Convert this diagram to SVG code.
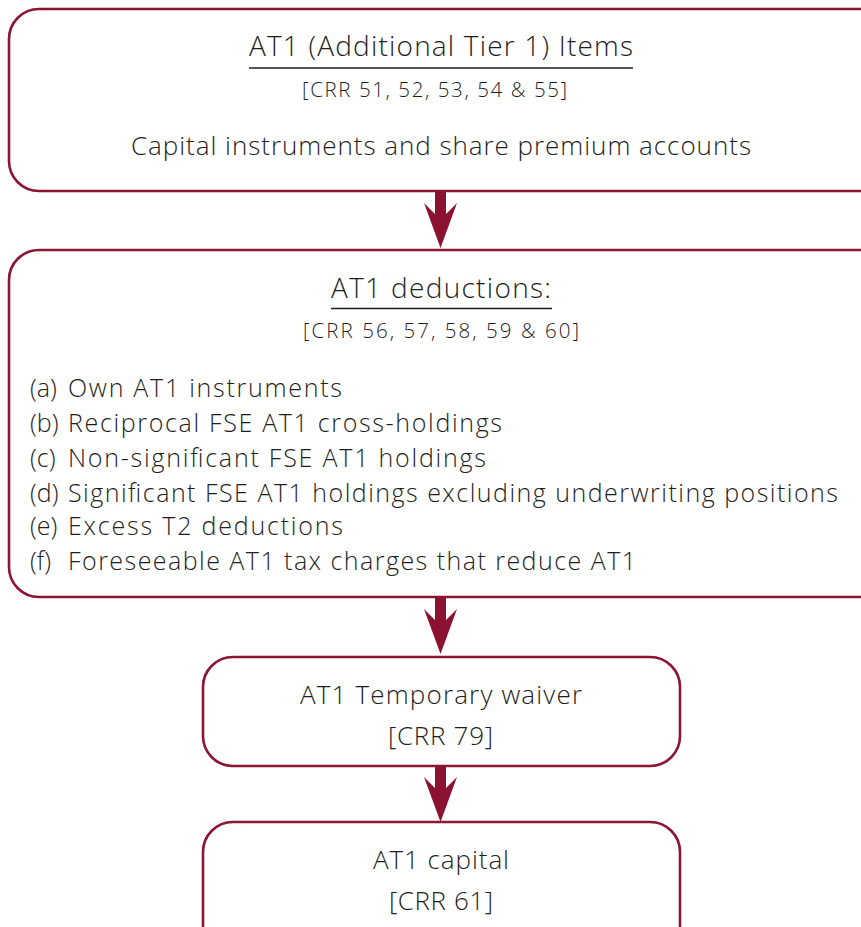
<svg xmlns="http://www.w3.org/2000/svg" xmlns:xlink="http://www.w3.org/1999/xlink" width="861" height="927" viewBox="0 0 861 927">
<style>
.box{fill:#fff;stroke:#8c1535;stroke-width:2.6}
.t{font-family:"Open Sans","Liberation Sans",sans-serif;font-weight:300;fill:#1e1e1e}
.ul{stroke:#1e1e1e;stroke-width:1.6}
.arr{fill:#8c1232}
.lg{font-size:28px}
.md{font-size:26px}
.it{font-size:25px}
.sm{font-size:20.5px}
</style>
<defs>
<path id="arrow" d="M-5.5,0 L5.5,0 L5.5,22 L16.5,11 L0,56 L-16.5,11 L-5.5,22 Z"/>
</defs>
<rect width="861" height="927" fill="#fff"/>
<g id="node-items">
<rect class="box" x="9" y="9" width="880" height="182" rx="30"/>
<text class="t lg" x="249" y="56" textLength="384">AT1 (Additional Tier 1) Items</text>
<line class="ul" x1="249" y1="68" x2="633" y2="68"/>
<text class="t sm" x="302" y="97" textLength="265">[CRR 51, 52, 53, 54 &amp; 55]</text>
<text class="t md" x="131" y="155" textLength="620">Capital instruments and share premium accounts</text>
</g>
<g id="node-deductions">
<rect class="box" x="9" y="250" width="880" height="347" rx="30"/>
<text class="t lg" x="331" y="298" textLength="220">AT1 deductions:</text>
<line class="ul" x1="331" y1="308.5" x2="552" y2="308.5"/>
<text class="t sm" x="303" y="338" textLength="276">[CRR 56, 57, 58, 59 &amp; 60]</text>
<text class="t it" y="397"><tspan x="30">(a)</tspan><tspan x="68" textLength="274">Own AT1 instruments</tspan></text>
<text class="t it" y="432"><tspan x="30">(b)</tspan><tspan x="68" textLength="434">Reciprocal FSE AT1 cross-holdings</tspan></text>
<text class="t it" y="467"><tspan x="30">(c)</tspan><tspan x="68" textLength="418">Non-significant FSE AT1 holdings</tspan></text>
<text class="t it" y="502"><tspan x="30">(d)</tspan><tspan x="68" textLength="770">Significant FSE AT1 holdings excluding underwriting positions</tspan></text>
<text class="t it" y="535"><tspan x="30">(e)</tspan><tspan x="68" textLength="275">Excess T2 deductions</tspan></text>
<text class="t it" y="570"><tspan x="30">(f)</tspan><tspan x="68" textLength="568">Foreseeable AT1 tax charges that reduce AT1</tspan></text>
</g>
<g id="node-waiver">
<rect class="box" x="203" y="657" width="477" height="109" rx="30"/>
<text class="t md" x="300" y="704" textLength="282">AT1 Temporary waiver</text>
<text class="t md" x="388" y="745" textLength="105">[CRR 79]</text>
</g>
<g id="node-capital">
<rect class="box" x="203" y="822" width="477" height="140" rx="30"/>
<text class="t md" x="373" y="869" textLength="136">AT1 capital</text>
<text class="t md" x="389" y="910" textLength="104">[CRR 61]</text>
</g>
<g id="connectors">
<use xlink:href="#arrow" class="arr" transform="translate(440.5,192)"/>
<use xlink:href="#arrow" class="arr" transform="translate(440.5,598)"/>
<use xlink:href="#arrow" class="arr" transform="translate(440.5,766)"/>
</g>
</svg>
